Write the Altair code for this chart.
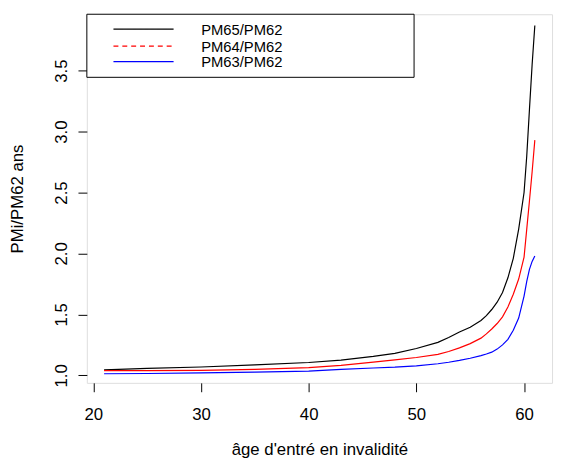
import altair as alt
import pandas as pd

ages = [21, 25, 30, 35, 40, 43, 46, 48, 50, 52, 53, 54, 55, 56, 56.5, 57, 57.5, 58, 58.5, 59, 59.5, 60, 60.25, 60.5, 60.75, 61]
pm65 = [1.045, 1.057, 1.068, 1.085, 1.105, 1.125, 1.155, 1.18, 1.22, 1.27, 1.31, 1.355, 1.395, 1.45, 1.49, 1.54, 1.60, 1.68, 1.80, 1.96, 2.20, 2.50, 2.80, 3.18, 3.55, 3.87]
pm64 = [1.038, 1.039, 1.041, 1.048, 1.063, 1.082, 1.108, 1.127, 1.146, 1.172, 1.195, 1.225, 1.26, 1.305, 1.34, 1.38, 1.425, 1.48, 1.56, 1.665, 1.79, 1.97, 2.20, 2.43, 2.67, 2.93]
pm63 = [1.013, 1.015, 1.020, 1.026, 1.035, 1.048, 1.060, 1.067, 1.078, 1.095, 1.107, 1.122, 1.14, 1.162, 1.175, 1.19, 1.215, 1.25, 1.295, 1.37, 1.47, 1.65, 1.77, 1.87, 1.935, 1.98]

series_names = ["PM65/PM62", "PM64/PM62", "PM63/PM62"]
series_colors = ["black", "red", "blue"]
x_ticks = [20, 30, 40, 50, 60]
y_ticks = [1.0, 1.5, 2.0, 2.5, 3.0, 3.5]

rows = []
for name, vals in zip(series_names, [pm65, pm64, pm63]):
    for a, v in zip(ages, vals):
        rows.append({"age": a, "ratio": v, "serie": name})
df = pd.DataFrame(rows)

W, H = 472, 374
FONT = "Liberation Sans"

lines = alt.Chart(df).mark_line(strokeWidth=1.2, interpolate="linear").encode(
    x=alt.X("age:Q",
            scale=alt.Scale(domain=[19.4, 62.6], nice=False, zero=False),
            axis=alt.Axis(values=x_ticks, format="d", title="âge d'entré en invalidité",
                          grid=False, domain=False, tickSize=9, tickColor="black",
                          labelPadding=23, labelBaseline="middle", labelFontSize=17,
                          labelColor="black", labelFont=FONT,
                          titleFont=FONT, titleFontSize=17, titleFontWeight="normal",
                          titleColor="black", titleX=W / 2, titleY=68,
                          titleAlign="center", titleBaseline="middle")),
    y=alt.Y("ratio:Q",
            scale=alt.Scale(domain=[0.938, 3.963], nice=False, zero=False),
            axis=alt.Axis(values=y_ticks, format=".1f", title="PMi/PM62 ans",
                          grid=False, domain=False, tickSize=9, tickColor="black",
                          labelAngle=270, labelAlign="center", labelBaseline="middle",
                          labelPadding=17, labelFontSize=17, labelColor="black",
                          labelFont=FONT,
                          titleFont=FONT, titleFontSize=17, titleFontWeight="normal",
                          titleColor="black", titleAngle=270, titleX=-70, titleY=H / 2,
                          titleAlign="center", titleBaseline="middle")),
    color=alt.Color("serie:N", scale=alt.Scale(domain=series_names, range=series_colors),
                    legend=None),
    detail="serie:N",
)

one = pd.DataFrame({"k": [0]})

legend_box = alt.Chart(one).mark_rect(fill="white", stroke="black", strokeWidth=1).encode(
    x=alt.value(0), x2=alt.value(332), y=alt.value(0), y2=alt.value(64)
)

layers = [lines, legend_box]
row_y = [15, 32.3, 48]
text_y = [15.7, 33.3, 49]
dashes = [[1, 0], [5, 4], [1, 0]]
for name, col, ry, ty, dash in zip(series_names, series_colors, row_y, text_y, dashes):
    rule = alt.Chart(one).mark_rule(color=col, strokeWidth=1.3, strokeDash=dash).encode(
        x=alt.value(27), x2=alt.value(88), y=alt.value(ry)
    )
    txt = alt.Chart(pd.DataFrame({"t": [name]})).mark_text(
        align="left", baseline="middle", font=FONT, fontSize=15, color="black"
    ).encode(x=alt.value(116), y=alt.value(ty), text="t:N")
    layers += [rule, txt]

chart = alt.layer(*layers).properties(
    width=W, height=H,
    autosize=alt.AutoSizeParams(type="none"),
    padding={"left": 80, "top": 3, "right": 4, "bottom": 80},
).configure_view(stroke="black", strokeWidth=1).configure(background="white")

chart.save("out.html", embed_options={"renderer": "svg", "actions": False})
